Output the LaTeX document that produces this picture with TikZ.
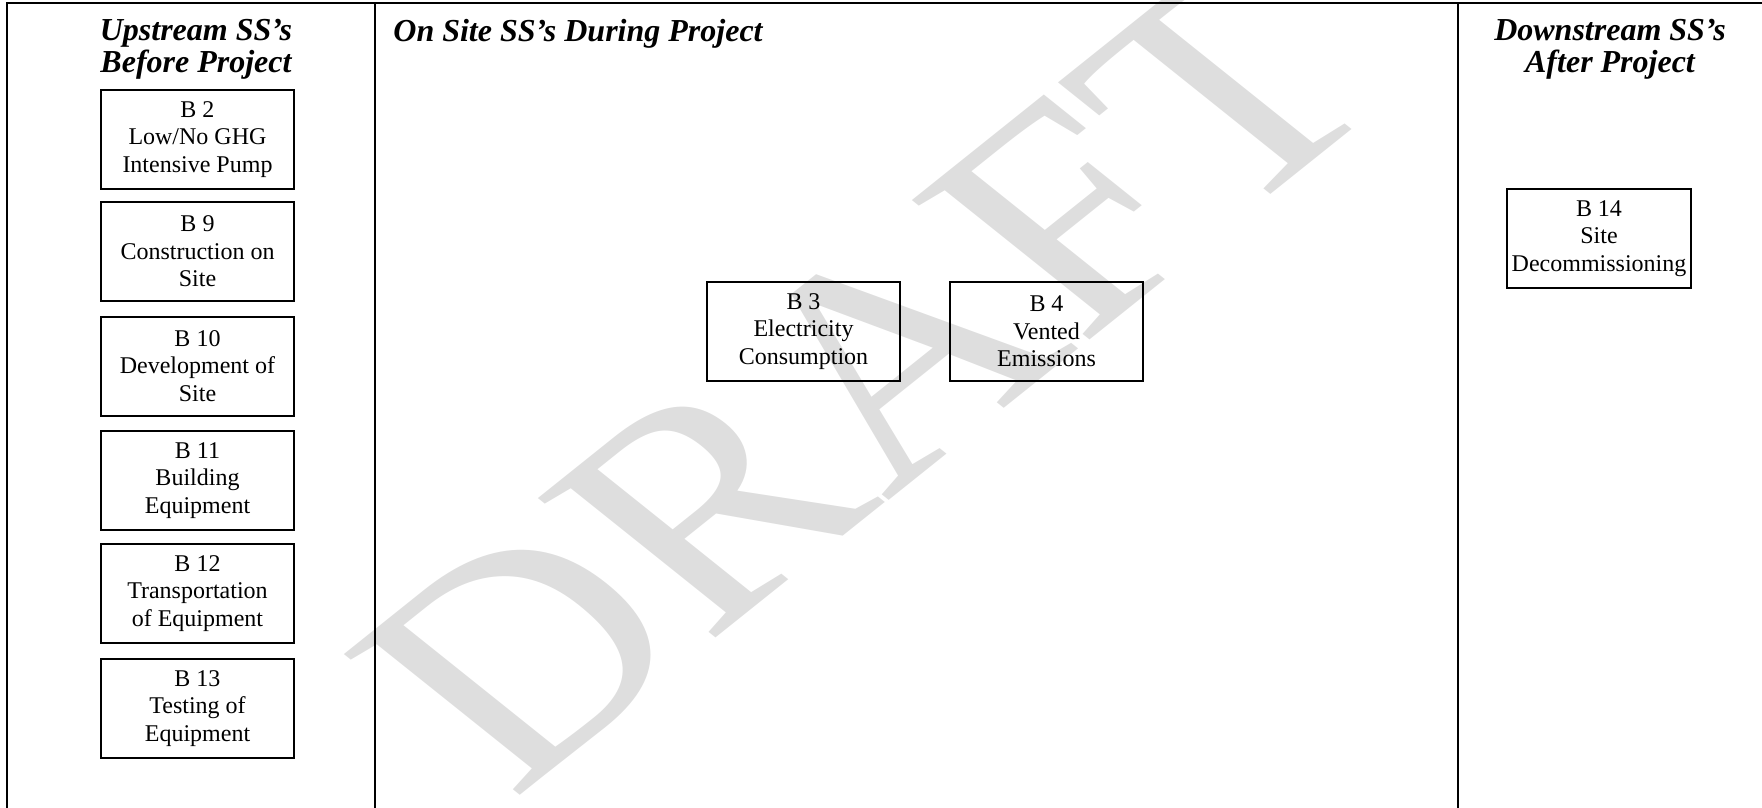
\documentclass[tikz,border=0pt]{standalone}
\usepackage{fontspec}
\setmainfont{Liberation Serif}
\usetikzlibrary{positioning}

\begin{document}
\begin{tikzpicture}[x=0.5pt, y=-0.5pt,
		ssbox/.style={draw, line width=1pt, minimum width=96.5pt, minimum height=49.5pt, inner sep=0pt, align=center, font=\fontsize{12}{13.8}\selectfont},
		sshead/.style={inner sep=0pt, align=center, font=\fontsize{16}{16}\selectfont\bfseries\itshape},
		ssline/.style={line width=1.4pt}]
			\useasboundingbox (0,0) rectangle (1762,808);
			% watermark
			\begin{scope}
				\clip (0,0) rectangle (1762,808);
				\node[yscale=0.8, rotate=45, text=black!13, font=\fontsize{190}{190}\selectfont] (draft) at (865,378) {DRAFT};
			\end{scope}
			\draw[ssline] (7,808) -- (7,3) -- (1762,3);
			\draw[ssline] (375,3) -- (375,808);
			\draw[ssline] (1458,3) -- (1458,808);
			\node[sshead, anchor=north] (upstream) at (196,19) {Upstream SS’s\\Before Project};
			\node[sshead, anchor=north west] (onsite) at (393,19) {On Site SS’s During Project};
			\node[sshead, anchor=north] (downstream) at (1610,19) {Downstream SS’s\\After Project};
			\foreach \n/\y/\txt in {2/139.5/{B 2\\Low/No GHG\\Intensive Pump}, 9/251.5/{B 9\\Construction on\\Site}, 10/366/{B 10\\Development of\\Site}, 11/480.5/{B 11\\Building\\Equipment}, 12/593.5/{B 12\\Transportation\\of Equipment}, 13/708.5/{B 13\\ Testing of\\Equipment}}
			{
				\node[ssbox] (b\n) at (197.5,\y) {\txt};
			}
			\node[ssbox] (b3) at (803.5,331.5) {B 3\\Electricity\\Consumption};
			\node[ssbox, right=24pt of b3] (b4) {B 4\\Vented\\Emissions};
			\node[ssbox, minimum width=92pt] (b14) at (1599,238.5) {B 14\\Site\\Decommissioning};
		\end{tikzpicture}
\end{document}
